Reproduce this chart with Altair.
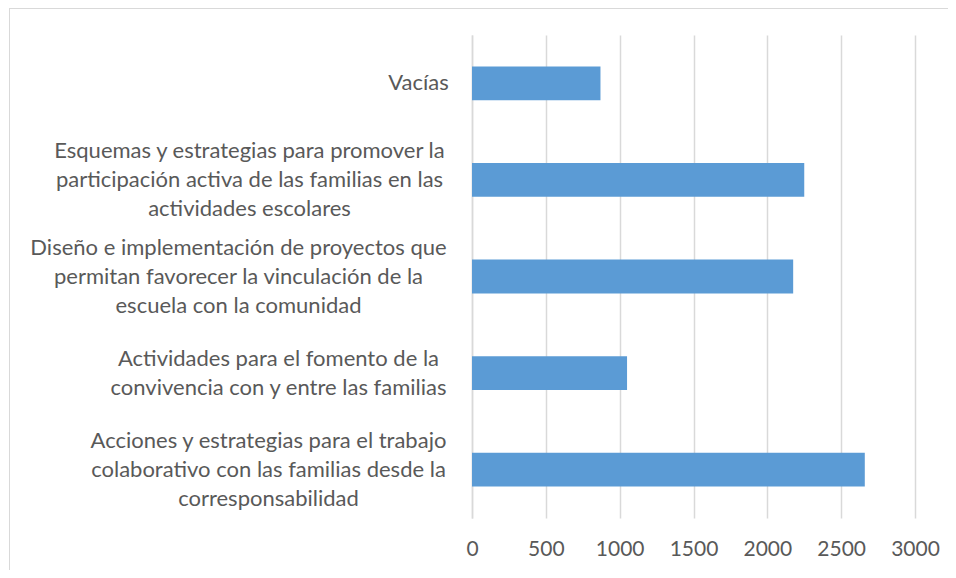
import altair as alt
import pandas as pd

categories = [
    "Vacías",
    "Esquemas y estrategias para promover la\nparticipación activa de las familias en las\nactividades escolares",
    "Diseño e implementación de proyectos que\npermitan favorecer la vinculación de la\nescuela con la comunidad",
    "Actividades para el fomento de la\nconvivencia con y entre las familias",
    "Acciones y estrategias para el trabajo\ncolaborativo con las familias desde la\ncorresponsabilidad",
]
values = [870, 2250, 2175, 1050, 2660]
x_ticks = [0, 500, 1000, 1500, 2000, 2500, 3000]

# distance from the axis to the centre of each (centred) label block
label_pads = [54, 223, 234, 194, 204]
LINE_H = 29

GRID = "#d9d9d9"
TEXT = "#595959"
FONT = "Lato"

df = pd.DataFrame({"categoria": categories, "valor": values})

pad_conds = []
off_conds = []
for c, p in zip(categories, label_pads):
    esc = c.replace("\n", "\\n")
    test = "datum.value == '" + esc + "'"
    n_lines = c.count("\n") + 1
    pad_conds.append({"test": test, "value": p})
    off_conds.append({"test": test, "value": -(n_lines - 1) * LINE_H / 2})

bars = alt.Chart(df).mark_bar(color="#5B9BD5").encode(
    x=alt.X(
        "valor:Q",
        scale=alt.Scale(domain=[0, 3000], nice=False),
        axis=alt.Axis(
            values=x_ticks, title=None, format="d", grid=True, gridColor=GRID, gridWidth=1.5,
            domain=False, ticks=False, labelFont=FONT, labelFontSize=21,
            labelColor=TEXT, labelPadding=20, labelFlush=False, labelOverlap=False,
        ),
    ),
    y=alt.Y(
        "categoria:N",
        sort=categories,
        scale=alt.Scale(paddingInner=0.65, paddingOuter=0.325),
        axis=alt.Axis(
            title=None, domainColor=GRID, domainWidth=1.5, ticks=False, grid=False,
            labelAlign="center",
            labelPadding={"condition": pad_conds, "value": 54},
            labelOffset={"condition": off_conds, "value": 0},
            labelExpr="split(datum.label, '\\n')", labelLimit=0,
            labelLineHeight=LINE_H, labelFont=FONT, labelFontSize=22, labelColor=TEXT,
        ),
    ),
)

frame_src = alt.Data(values=[{"k": 0}])
top_line = alt.Chart(frame_src).mark_rule(color=GRID, strokeWidth=1).encode(
    x=alt.value(-463), x2=alt.value(476), y=alt.value(-26.5)
)
left_line = alt.Chart(frame_src).mark_rule(color=GRID, strokeWidth=1).encode(
    x=alt.value(-462.5), y=alt.value(-26.5), y2=alt.value(535)
)

chart = alt.layer(top_line, left_line, bars).properties(
    width=443,
    height=483,
    autosize=alt.AutoSizeParams(type="none"),
    padding={"left": 464, "top": 27, "right": 33, "bottom": 52},
).configure_view(strokeWidth=0)

chart.save("out.html", embed_options={"renderer": "svg", "actions": False})
